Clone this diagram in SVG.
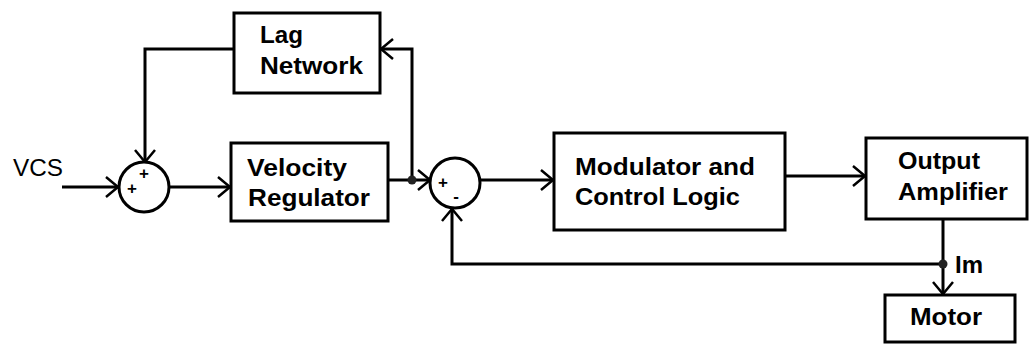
<svg xmlns="http://www.w3.org/2000/svg" width="1031" height="346" viewBox="0 0 1031 346">
<style>
.box{fill:#fff;stroke:#000;stroke-width:3}
.sum{fill:#fff;stroke:#000;stroke-width:3}
.ln{fill:none;stroke:#000;stroke-width:3}
.t{font-family:"Liberation Sans",Arial,sans-serif;font-size:24px;font-weight:bold;fill:#000}
.tr{font-family:"Liberation Sans",Arial,sans-serif;font-size:24px;fill:#000}
.sg{font-family:"Liberation Sans",Arial,sans-serif;font-size:17px;font-weight:bold;fill:#000;text-anchor:middle}
</style>
<defs>
<marker id="arr" markerUnits="userSpaceOnUse" markerWidth="30" markerHeight="30" refX="0" refY="0" orient="auto" overflow="visible">
<path d="M-12,-10 L0,0 L-12,10" fill="none" stroke="#000" stroke-width="2.5"/>
</marker>
</defs>
<g id="connectors">
<path class="ln" d="M62,187 H118" marker-end="url(#arr)"/>
<path class="ln" d="M234,49 H145 V162" marker-end="url(#arr)"/>
<path class="ln" d="M169,187 H230" marker-end="url(#arr)"/>
<path class="ln" d="M388,180 H430" marker-end="url(#arr)"/>
<path class="ln" d="M412,180 V49 H381" marker-end="url(#arr)"/>
<path class="ln" d="M480,180 H553" marker-end="url(#arr)"/>
<path class="ln" d="M785,176 H865" marker-end="url(#arr)"/>
<path class="ln" d="M943,220 V294" marker-end="url(#arr)"/>
<path class="ln" d="M943,264 H452 V209" marker-end="url(#arr)"/>
<circle cx="412" cy="180" r="4.5" fill="#222"/>
<circle cx="943" cy="264" r="4.5" fill="#222"/>
</g>
<g id="vcs"><text class="tr" x="13" y="176" textLength="50" lengthAdjust="spacingAndGlyphs">VCS</text></g>
<g id="sum1">
<circle class="sum" cx="144" cy="187" r="25"/>
<text class="sg" x="144" y="179">+</text>
<text class="sg" x="132" y="194">+</text>
</g>
<g id="lag">
<rect class="box" x="234" y="13" width="146" height="80"/>
<text class="t" x="260" y="43" textLength="43" lengthAdjust="spacingAndGlyphs">Lag</text>
<text class="t" x="260" y="74" textLength="103" lengthAdjust="spacingAndGlyphs">Network</text>
</g>
<g id="velocity">
<rect class="box" x="231" y="143" width="157" height="78"/>
<text class="t" x="247" y="176" textLength="100" lengthAdjust="spacingAndGlyphs">Velocity</text>
<text class="t" x="248" y="206" textLength="122" lengthAdjust="spacingAndGlyphs">Regulator</text>
</g>
<g id="sum2">
<circle class="sum" cx="455" cy="183" r="25"/>
<text class="sg" x="443" y="188">+</text>
<text class="sg" x="456" y="202">-</text>
</g>
<g id="modulator">
<rect class="box" x="554" y="133" width="231" height="97"/>
<text class="t" x="575" y="175" textLength="180" lengthAdjust="spacingAndGlyphs">Modulator and</text>
<text class="t" x="575" y="205" textLength="165" lengthAdjust="spacingAndGlyphs">Control Logic</text>
</g>
<g id="amplifier">
<rect class="box" x="866" y="138" width="161" height="81"/>
<text class="t" x="898" y="169" textLength="82" lengthAdjust="spacingAndGlyphs">Output</text>
<text class="t" x="898" y="200" textLength="110" lengthAdjust="spacingAndGlyphs">Amplifier</text>
</g>
<g id="im"><text class="t" x="955" y="273" textLength="28" lengthAdjust="spacingAndGlyphs">Im</text></g>
<g id="motor">
<rect class="box" x="885" y="295" width="130" height="47"/>
<text class="t" x="910" y="325" textLength="72" lengthAdjust="spacingAndGlyphs">Motor</text>
</g>
</svg>
